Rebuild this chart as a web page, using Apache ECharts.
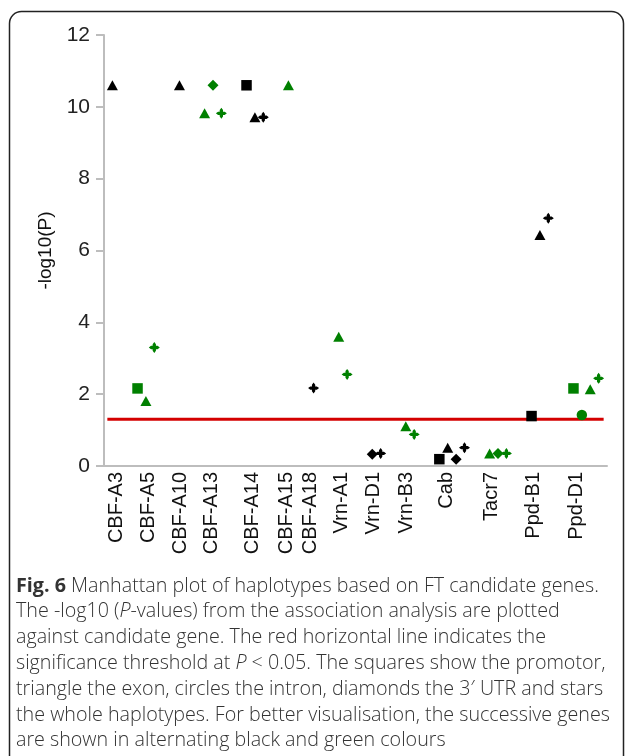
<!DOCTYPE html>
<html>
<head>
<meta charset="utf-8">
<script src="https://cdn.jsdelivr.net/npm/echarts@6/dist/echarts.min.js"></script>
<style>
  html, body { margin: 0; padding: 0; background: #fff; }
  #chart { width: 627px; height: 756px; }
</style>
</head>
<body>
<div id="chart"></div>
<script>
// Candidate genes, in genome order, and where each name sits on the marker axis
const genes = ['CBF-A3', 'CBF-A5', 'CBF-A10', 'CBF-A13', 'CBF-A14', 'CBF-A15', 'CBF-A18',
               'Vrn-A1', 'Vrn-D1', 'Vrn-B3', 'Cab', 'Tacr7', 'Ppd-B1', 'Ppd-D1'];
const geneLabelAt = [1.5, 5.3, 9.15, 12.85, 17.7, 21.8, 24.6, 28.3, 32.1, 36.1, 40.9, 46.2, 51.2, 56.4];

// Haplotype results: [marker slot, gene index, -log10(P)]
const promoter = [[4, 1, 2.16], [17, 4, 10.6], [40, 10, 0.19], [51, 12, 1.39], [56, 13, 2.16]];
const exon = [[1, 0, 10.6], [5, 1, 1.81], [9, 2, 10.6], [12, 3, 9.82], [18, 4, 9.71], [22, 5, 10.6],
              [28, 7, 3.60], [36, 9, 1.11], [41, 10, 0.51], [46, 11, 0.35], [52, 12, 6.43], [58, 13, 2.14]];
const intron = [[57, 13, 1.42]];
const utr3 = [[13, 3, 10.6], [32, 8, 0.33], [42, 10, 0.19], [47, 11, 0.35]];
const wholeHaplotype = [[6, 1, 3.30], [14, 3, 9.82], [19, 4, 9.71], [25, 6, 2.17], [29, 7, 2.55],
                        [33, 8, 0.35], [37, 9, 0.88], [43, 10, 0.51], [48, 11, 0.35], [53, 12, 6.90], [59, 13, 2.44]];

// Significance threshold P < 0.05 and the marker span it covers
const thresholdP = 0.05;
const thresholdSpan = [0.4, 59.6];

const yTicks = [0, 2, 4, 6, 8, 10, 12];

// bold plus with pointed arm tips, used for whole-haplotype results
const STAR = 'path://M0,-10 L3,-6 L3,-3 L6,-3 L10,0 L6,3 L3,3 L3,6 L0,10 L-3,6 L-3,3 L-6,3 L-10,0 L-6,-3 L-3,-3 L-3,-6 Z';
const geneColour = (gi) => (gi % 2 === 0 ? '#000000' : '#008000');

function pointSeries(name, rows, symbol, size) {
  return {
    name: name,
    type: 'scatter',
    symbol: symbol,
    symbolSize: size,
    itemStyle: { opacity: 1 },
    data: rows.map(r => ({ value: [r[0], r[2]], itemStyle: { color: geneColour(r[1]), opacity: 1 } })),
    z: 5
  };
}

const threshold = -Math.log10(thresholdP);
const FONT = 'Liberation Sans, Arial, sans-serif';
const CAP = 'Open Sans, sans-serif';
const CAP_SIZE = 19.7;
const CAP_LINE = 25.8;
const CAP_COLOUR = '#333';

const chart = echarts.init(document.getElementById('chart'), null, { renderer: 'canvas' });
chart.setOption({
  animation: false,
  backgroundColor: '#ffffff',
  grid: { left: 104, right: 20, top: 35, bottom: 290, containLabel: false },
  xAxis: {
    type: 'value',
    min: 0,
    max: 60,
    axisLine: { show: true, onZero: false, lineStyle: { color: '#bdbdbd', width: 2 } },
    axisTick: { show: false },
    splitLine: { show: false },
    axisLabel: {
      customValues: geneLabelAt,
      rotate: 90,
      margin: 6,
      color: '#111',
      fontFamily: FONT,
      fontSize: 20,
      formatter: (v) => genes[geneLabelAt.indexOf(v)] || ''
    }
  },
  yAxis: {
    type: 'value',
    min: 0,
    max: 12,
    interval: 2,
    name: '-log10(P)',
    nameLocation: 'middle',
    nameGap: 47,
    nameRotate: 90,
    nameTextStyle: { color: '#111', fontFamily: FONT, fontSize: 19 },
    axisLine: { show: true, lineStyle: { color: '#bdbdbd', width: 2 } },
    axisTick: { show: true, length: 8, lineStyle: { color: '#bdbdbd', width: 2 } },
    splitLine: { show: false },
    axisLabel: {
      margin: 14,
      color: '#222',
      fontFamily: FONT,
      fontSize: 21,
      formatter: (v) => (yTicks.includes(v) ? String(v) : '')
    }
  },
  title: {
    left: 16,
    top: 573,
    padding: 0,
    text: '{b|Fig. 6} Manhattan plot of haplotypes based on FT candidate genes.\n' +
          'The -log10 ({i|P}-values) from the association analysis are plotted\n' +
          'against candidate gene. The red horizontal line indicates the\n' +
          'significance threshold at {i|P} < 0.05. The squares show the promotor,\n' +
          'triangle the exon, circles the intron, diamonds the 3′ UTR and stars\n' +
          'the whole haplotypes. For better visualisation, the successive genes\n' +
          'are shown in alternating black and green colours',
    textStyle: {
      fontFamily: CAP,
      fontSize: CAP_SIZE,
      fontWeight: 300,
      lineHeight: CAP_LINE,
      color: CAP_COLOUR,
      rich: {
        b: { fontFamily: CAP, fontSize: CAP_SIZE, fontWeight: 'bold', lineHeight: CAP_LINE, color: CAP_COLOUR },
        i: { fontFamily: CAP, fontSize: CAP_SIZE, fontWeight: 300, fontStyle: 'italic', lineHeight: CAP_LINE, color: CAP_COLOUR }
      }
    }
  },
  graphic: [{
    type: 'rect',
    silent: true,
    shape: { x: 9.5, y: 11.5, width: 614, height: 800, r: 12 },
    style: { fill: 'none', stroke: '#222', lineWidth: 1.5 }
  }],
  series: [
    {
      name: 'P < 0.05',
      type: 'line',
      data: thresholdSpan.map(x => [x, threshold]),
      symbol: 'none',
      lineStyle: { color: '#d40000', width: 3 },
      z: 2
    },
    pointSeries('promoter', promoter, 'rect', 10.5),
    pointSeries('exon', exon, 'triangle', [11, 10]),
    pointSeries('intron', intron, 'circle', 10.5),
    pointSeries("3' UTR", utr3, 'diamond', [11, 11]),
    pointSeries('whole haplotype', wholeHaplotype, STAR, 11)
  ]
});
</script>
</body>
</html>
